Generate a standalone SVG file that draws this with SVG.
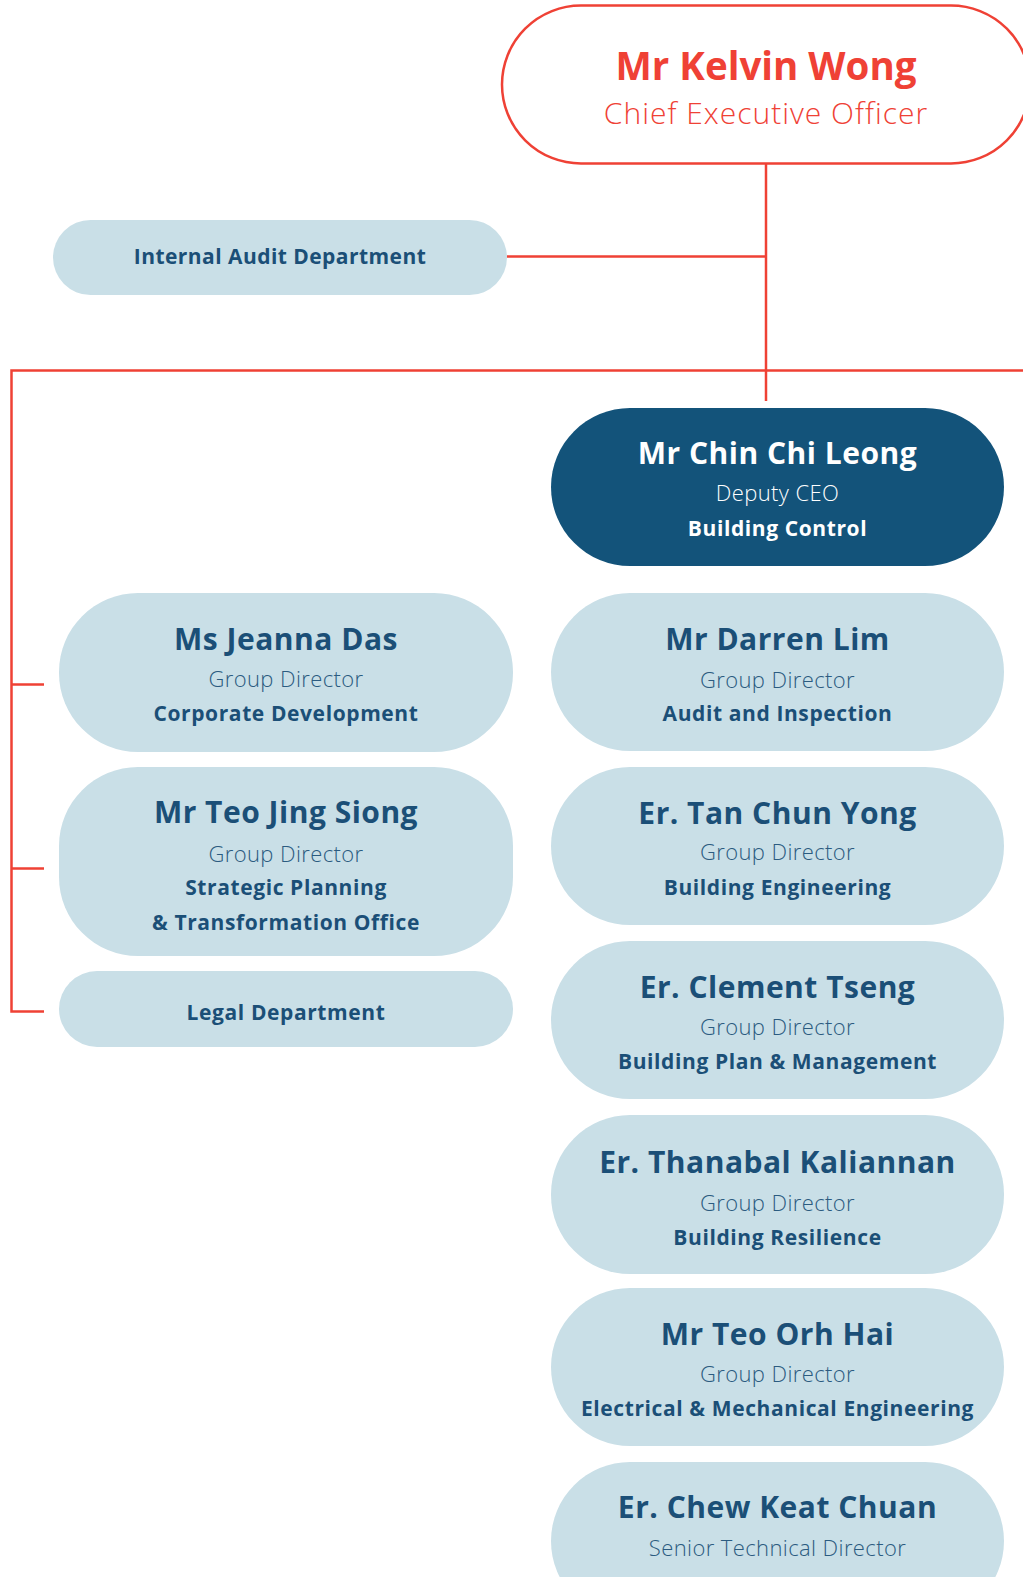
<svg xmlns="http://www.w3.org/2000/svg" width="1023" height="1577" viewBox="0 0 1023 1577">
<style>
text{font-family:"Open Sans","Noto Sans","Liberation Sans",sans-serif;text-anchor:middle}
.box{fill:#c9dfe7}
.nm{font-size:30px;font-weight:700;fill:#1b4f77;letter-spacing:0.5px}
.rl{font-size:22px;font-weight:300;fill:#2b5b80;letter-spacing:0.4px}
.dp{font-size:21px;font-weight:700;fill:#1b4f77;letter-spacing:0.6px}
.ln{stroke:#ef4135;stroke-width:2.5;fill:none}
</style>
<rect width="1023" height="1577" fill="#fff"/>
<g id="connectors">
<path class="ln" d="M766 164V401"/>
<path class="ln" d="M507 256.5H766"/>
<path class="ln" d="M1023 370.5H11.5V1011.5H44"/>
<path class="ln" d="M11.5 684.5H44M11.5 868.5H44"/>
</g>
<g id="ceo">
<rect x="502" y="5.5" width="528" height="158" rx="79" fill="#fff" stroke="#ef4135" stroke-width="2.5"/>
<text x="766" y="79.5" style="font-size:38.5px;font-weight:700;fill:#ef4135">Mr Kelvin Wong</text>
<text x="766" y="123.5" style="font-size:30px;font-weight:300;fill:#ef4135;letter-spacing:1px">Chief Executive Officer</text>
</g>
<g id="internal-audit">
<rect class="box" x="53" y="220" width="454" height="75" rx="37.5"/>
<text class="dp" x="280" y="264" style="letter-spacing:0.45px">Internal Audit Department</text>
</g>
<g id="deputy-ceo">
<rect x="551" y="408" width="453" height="158" rx="79" fill="#13537a"/>
<text class="nm" x="777.5" y="464" style="fill:#fff">Mr Chin Chi Leong</text>
<text class="rl" x="777.5" y="501" style="fill:#fff">Deputy CEO</text>
<text class="dp" x="777.5" y="536" style="fill:#fff">Building Control</text>
</g>
<g id="jeanna-das">
<rect class="box" x="59" y="593" width="454" height="159" rx="79"/>
<text class="nm" x="286" y="649.5">Ms Jeanna Das</text>
<text class="rl" x="286" y="687">Group Director</text>
<text class="dp" x="286" y="721">Corporate Development</text>
</g>
<g id="teo-jing-siong">
<rect class="box" x="59" y="767" width="454" height="189" rx="79"/>
<text class="nm" x="286" y="823">Mr Teo Jing Siong</text>
<text class="rl" x="286" y="861.5">Group Director</text>
<text class="dp" x="286" y="895">Strategic Planning</text>
<text class="dp" x="286" y="930">&amp; Transformation Office</text>
</g>
<g id="legal">
<rect class="box" x="59" y="971" width="454" height="76" rx="38"/>
<text class="dp" x="286" y="1020">Legal Department</text>
</g>
<g id="darren-lim">
<rect class="box" x="551" y="593" width="453" height="158" rx="79"/>
<text class="nm" x="777.5" y="649.5">Mr Darren Lim</text>
<text class="rl" x="777.5" y="688">Group Director</text>
<text class="dp" x="777.5" y="721">Audit and Inspection</text>
</g>
<g id="tan-chun-yong">
<rect class="box" x="551" y="767" width="453" height="158" rx="79"/>
<text class="nm" x="777.5" y="823.5">Er. Tan Chun Yong</text>
<text class="rl" x="777.5" y="860">Group Director</text>
<text class="dp" x="777.5" y="895">Building Engineering</text>
</g>
<g id="clement-tseng">
<rect class="box" x="551" y="941" width="453" height="158" rx="79"/>
<text class="nm" x="777.5" y="997.5">Er. Clement Tseng</text>
<text class="rl" x="777.5" y="1035">Group Director</text>
<text class="dp" x="777.5" y="1069">Building Plan &amp; Management</text>
</g>
<g id="thanabal-kaliannan">
<rect class="box" x="551" y="1115" width="453" height="159" rx="79"/>
<text class="nm" x="777.5" y="1172.5">Er. Thanabal Kaliannan</text>
<text class="rl" x="777.5" y="1211">Group Director</text>
<text class="dp" x="777.5" y="1245">Building Resilience</text>
</g>
<g id="teo-orh-hai">
<rect class="box" x="551" y="1288" width="453" height="158" rx="79"/>
<text class="nm" x="777.5" y="1344.5">Mr Teo Orh Hai</text>
<text class="rl" x="777.5" y="1382">Group Director</text>
<text class="dp" x="777.5" y="1416">Electrical &amp; Mechanical Engineering</text>
</g>
<g id="chew-keat-chuan">
<rect class="box" x="551" y="1462" width="453" height="158" rx="79"/>
<text class="nm" x="777.5" y="1517.5">Er. Chew Keat Chuan</text>
<text class="rl" x="777.5" y="1555.5">Senior Technical Director</text>
</g>
</svg>
